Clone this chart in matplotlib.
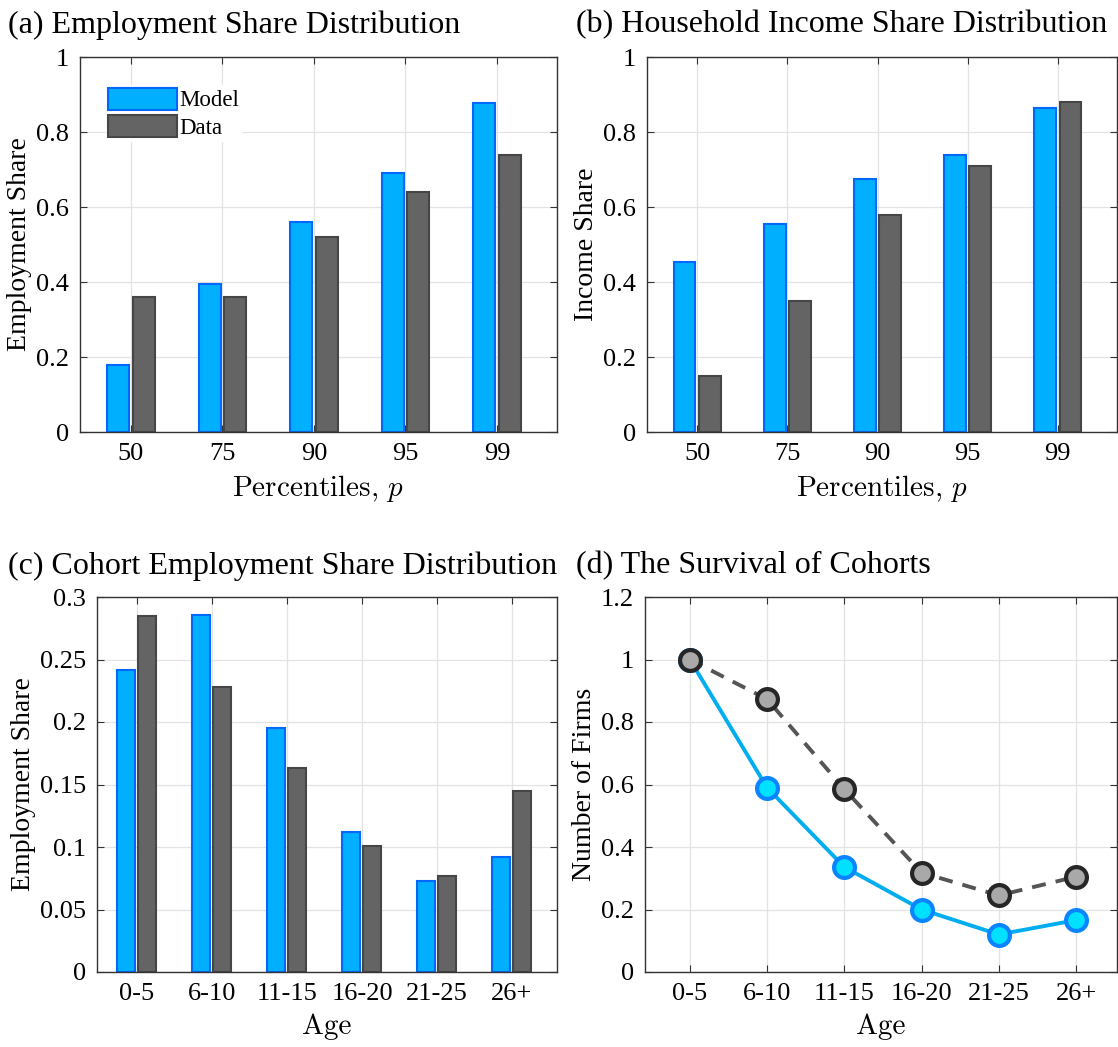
import matplotlib
matplotlib.use('Agg')
import matplotlib.pyplot as plt
import numpy as np
from matplotlib.ticker import FuncFormatter

plt.rcParams['font.family'] = ['Liberation Serif', 'DejaVu Serif']
plt.rcParams['mathtext.fontset'] = 'cm'
plt.rcParams['axes.unicode_minus'] = False

# ---- data ----
pct_labels = ['50', '75', '90', '95', '99']
emp_model = [0.18, 0.395, 0.56, 0.69, 0.878]
emp_data = [0.36, 0.36, 0.52, 0.64, 0.74]
inc_model = [0.453, 0.555, 0.675, 0.74, 0.865]
inc_data = [0.15, 0.35, 0.58, 0.71, 0.88]

age_labels = ['0-5', '6-10', '11-15', '16-20', '21-25', '26+']
coh_model = [0.242, 0.286, 0.195, 0.112, 0.073, 0.092]
coh_data = [0.285, 0.228, 0.163, 0.101, 0.077, 0.145]
surv_model = [1.0, 0.59, 0.336, 0.20, 0.12, 0.166]
surv_data = [1.0, 0.873, 0.585, 0.318, 0.245, 0.305]

BLUE = '#00B0FF'
BLUE_EDGE = '#0068FF'
GRAY = '#646464'
GRAY_EDGE = '#464646'
XLAB = dict(fontsize=21, family=['cmr10', 'Liberation Serif'], labelpad=6)
YLAB = dict(fontsize=20, labelpad=3)

W, H = 1118, 1047
fig = plt.figure(figsize=(W / 100, H / 100), dpi=100)


def make_ax(l, t, r, b):
    return fig.add_axes([l / W, 1 - b / H, (r - l) / W, (b - t) / H])


def style(ax):
    ax.grid(True, color='#E3E3E3', linewidth=0.9)
    ax.set_axisbelow(True)
    ax.tick_params(direction='in', top=True, right=True, labelsize=19,
                   length=5, color='#333333', pad=8)
    for s in ax.spines.values():
        s.set_color('#333333')
        s.set_linewidth(1.0)
    ax.yaxis.set_major_formatter(FuncFormatter(lambda v, p: f'{v:g}'))


def bars(ax, model, data, labels):
    x = np.arange(1, len(labels) + 1)
    w = 0.24
    b1 = ax.bar(x - 0.14, model, w, color=BLUE, edgecolor=BLUE_EDGE,
                linewidth=1.5, label='Model')
    b2 = ax.bar(x + 0.14, data, w, color=GRAY, edgecolor=GRAY_EDGE,
                linewidth=1.5, label='Data')
    ax.set_xticks(x)
    ax.set_xticklabels(labels)
    return b1, b2


# (a)
ax1 = make_ax(80, 57, 557, 432)
style(ax1)
bars(ax1, emp_model, emp_data, pct_labels)
ax1.set_xlim(0.443, 5.656)
ax1.set_ylim(0, 1)
ax1.set_yticks(np.arange(0, 1.01, 0.2))
ax1.set_ylabel('Employment Share', **YLAB)
ax1.set_xlabel('Percentiles, $p$', **XLAB)
leg = ax1.legend(loc='upper left', bbox_to_anchor=(0.03, 0.955), fontsize=16.5,
                 frameon=True, fancybox=False, edgecolor='white',
                 framealpha=1, handlelength=3.0, handleheight=1.1,
                 handletextpad=0.1, labelspacing=0.15, borderpad=0.1)

# (b)
ax2 = make_ax(647, 57, 1117, 432)
style(ax2)
bars(ax2, inc_model, inc_data, pct_labels)
ax2.set_xlim(0.443, 5.656)
ax2.set_ylim(0, 1)
ax2.set_yticks(np.arange(0, 1.01, 0.2))
ax2.set_ylabel('Income Share', **YLAB)
ax2.set_xlabel('Percentiles, $p$', **XLAB)

# (c)
ax3 = make_ax(97, 597, 557, 972)
style(ax3)
bars(ax3, coh_model, coh_data, age_labels)
ax3.set_xlim(0.467, 6.6)
ax3.set_ylim(0, 0.3)
ax3.set_yticks(np.arange(0, 0.301, 0.05))
ax3.set_ylabel('Employment Share', **YLAB)
ax3.set_xlabel('Age', **XLAB)

# (d)
ax4 = make_ax(645, 597, 1117, 972)
style(ax4)
xa = np.arange(1, len(age_labels) + 1)
ax4.plot(xa, surv_model, '-', color='#00AEEF', linewidth=2.8,
         marker='o', markersize=15, markerfacecolor='#00E1FF',
         markeredgecolor='#0A84FF', markeredgewidth=3, zorder=3)
ax4.plot(xa, surv_data, '--', color='#555555', linewidth=2.8, dashes=(3.6, 2.6),
         marker='o', markersize=15, markerfacecolor='#A9A9A9',
         markeredgecolor='#262626', markeredgewidth=3, zorder=4)
ax4.set_xticks(xa)
ax4.set_xticklabels(age_labels)
ax4.set_xlim(0.42, 6.53)
ax4.set_ylim(0, 1.2)
ax4.set_yticks(np.arange(0, 1.21, 0.2))
ax4.set_ylabel('Number of Firms', **YLAB)
ax4.set_xlabel('Age', **XLAB)

# panel titles
tkw = dict(fontsize=23, ha='left', va='center')
fig.text(8 / W, 1 - 25 / H, '(a) Employment Share Distribution', **tkw)
fig.text(576 / W, 1 - 25 / H, '(b) Household Income Share Distribution', **tkw)
fig.text(8 / W, 1 - 566 / H, '(c) Cohort Employment Share Distribution', **tkw)
fig.text(576 / W, 1 - 566 / H, '(d) The Survival of Cohorts', **tkw)

fig.savefig('out.png', dpi=100)
